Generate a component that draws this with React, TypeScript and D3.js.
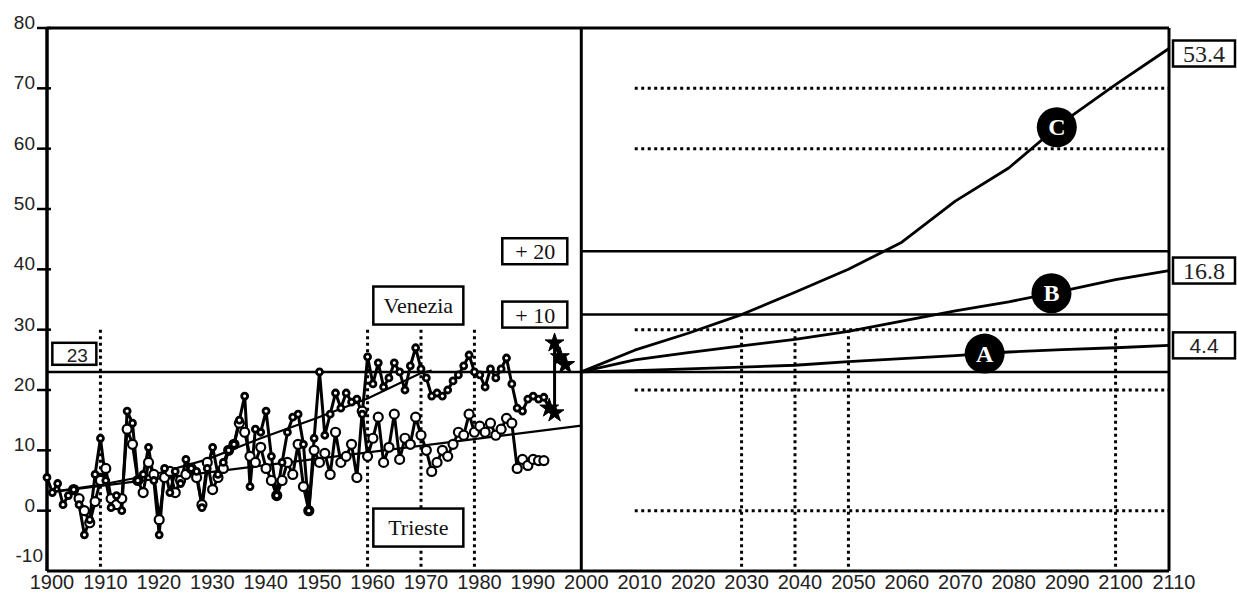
import React from "react";
import * as d3 from "d3";

const W = 1237;
const H = 595;

// ---------- data ----------
const yTicks = [80, 70, 60, 50, 40, 30, 20, 10, 0, -10];
const xTickYears = [1900, 1910, 1920, 1930, 1940, 1950, 1960, 1970, 1980, 1990, 2000, 2010, 2020, 2030, 2040, 2050, 2060, 2070, 2080, 2090, 2100, 2110];

// Venezia (upper series, small filled markers)
const venezia: [number, number][] = [
  [1900, 5.5], [1901, 3.0], [1902, 4.5], [1903, 1.0], [1904, 2.5], [1905, 3.5], [1906, 1.0], [1907, -4.0], [1908, -1.5], [1909, 6.0],
  [1910, 12.0], [1911, 5.0], [1912, 0.5], [1913, 2.5], [1914, 0.0], [1915, 16.5], [1916, 14.5], [1917, 5.0], [1918, 6.0], [1919, 10.5],
  [1920, 5.0], [1921, -4.0], [1922, 7.0], [1923, 3.0], [1924, 6.5], [1925, 4.5], [1926, 8.5], [1927, 7.0], [1928, 6.5], [1929, 0.5],
  [1930, 7.0], [1931, 10.5], [1932, 6.0], [1933, 8.0], [1934, 10.0], [1935, 11.0], [1936, 15.0], [1937, 19.0], [1938, 4.0], [1939, 13.5],
  [1940, 13.0], [1941, 16.5], [1942, 9.0], [1943, 2.5], [1944, 8.0], [1945, 13.0], [1946, 15.5], [1947, 16.0], [1948, 11.0], [1949, 0.0],
  [1950, 12.0], [1951, 23.0], [1952, 12.5], [1953, 16.0], [1954, 19.5], [1955, 17.0], [1956, 19.5], [1957, 18.0], [1958, 18.5], [1959, 16.0],
  [1960, 25.5], [1961, 21.0], [1962, 24.5], [1963, 20.5], [1964, 22.0], [1965, 24.5], [1966, 23.0], [1967, 20.0], [1968, 24.0], [1969, 27.0],
  [1970, 23.5], [1971, 22.0], [1972, 19.0], [1973, 19.5], [1974, 19.0], [1975, 20.0], [1976, 21.5], [1977, 22.5], [1978, 24.0], [1979, 25.8],
  [1980, 23.0], [1981, 22.5], [1982, 20.5], [1983, 23.5], [1984, 22.0], [1985, 23.5], [1986, 25.3], [1987, 21.0], [1988, 17.0], [1989, 16.5],
  [1990, 18.5], [1991, 19.0], [1992, 18.5], [1993, 18.8],
];
// Venezia, most recent values (star markers)
const veneziaStars: [number, number][] = [
  [1993, 18.8], [1994, 17.0], [1995, 16.2], [1995, 27.8], [1996, 25.5], [1997, 24.2],
];

// Trieste (lower series, open circles)
const trieste: [number, number][] = [
  [1905, 3.5], [1906, 2.0], [1907, 0.0], [1908, -2.0], [1909, 1.5],
  [1910, 5.0], [1911, 7.0], [1912, 2.0], [1913, 1.0], [1914, 2.0], [1915, 13.5], [1916, 11.0], [1917, 5.0], [1918, 3.0], [1919, 8.0],
  [1920, 6.0], [1921, -1.5], [1922, 5.5], [1923, 6.5], [1924, 3.0], [1925, 5.0], [1926, 6.0], [1927, 7.0], [1928, 5.5], [1929, 1.0],
  [1930, 8.0], [1931, 3.5], [1932, 5.5], [1933, 7.0], [1934, 10.0], [1935, 11.0], [1936, 14.5], [1937, 13.0], [1938, 9.0], [1939, 8.0],
  [1940, 10.5], [1941, 7.0], [1942, 5.0], [1943, 2.5], [1944, 5.0], [1945, 8.0], [1946, 6.0], [1947, 11.0], [1948, 4.0], [1949, 0.0],
  [1950, 10.0], [1951, 8.0], [1952, 9.5], [1953, 6.0], [1954, 13.0], [1955, 8.0], [1956, 9.0], [1957, 11.0], [1958, 5.5], [1959, 16.5],
  [1960, 9.0], [1961, 12.0], [1962, 15.5], [1963, 8.0], [1964, 10.5], [1965, 16.0], [1966, 8.5], [1967, 12.0], [1968, 11.0], [1969, 15.5],
  [1970, 12.5], [1971, 10.0], [1972, 6.5], [1973, 8.0], [1974, 10.0], [1975, 9.0], [1976, 11.0], [1977, 13.0], [1978, 12.5], [1979, 16.0],
  [1980, 13.0], [1981, 14.0], [1982, 13.0], [1983, 14.5], [1984, 12.5], [1985, 13.5], [1986, 15.3], [1987, 14.5], [1988, 7.0], [1989, 8.5],
  [1990, 7.5], [1991, 8.5], [1992, 8.3], [1993, 8.3],
];

// trend lines
const trendVenezia: [number, number][] = [
  [1900, 3.0], [1910, 4.3], [1920, 6.0], [1930, 8.5], [1940, 12.0], [1950, 15.2], [1960, 18.6], [1970, 22.8], [1972, 23.2],
];
const trendTrieste: [number, number][] = [[1900, 3.0], [2000, 14.1]];

// reference levels
const baseLevel = 23;
const levelPlus10 = 32.5;
const levelPlus20 = 43;

// scenarios (2000-2110)
const scenarioA: [number, number][] = [
  [2000, 23.0], [2010, 23.2], [2020, 23.5], [2030, 23.8], [2040, 24.1], [2050, 24.7], [2060, 25.2], [2070, 25.7], [2080, 26.3], [2090, 26.7], [2100, 27.0], [2110, 27.4],
];
const scenarioB: [number, number][] = [
  [2000, 23.0], [2010, 25.0], [2020, 26.2], [2030, 27.3], [2040, 28.4], [2050, 29.7], [2060, 31.4], [2070, 33.1], [2080, 34.6], [2090, 36.4], [2100, 38.3], [2110, 39.8],
];
const scenarioC: [number, number][] = [
  [2000, 23.0], [2010, 26.6], [2020, 29.4], [2030, 32.5], [2040, 36.2], [2050, 40.0], [2060, 44.5], [2070, 51.3], [2080, 56.8], [2090, 64.3], [2100, 70.6], [2110, 76.6],
];
const scenarioNames = ["A", "B", "C"];
const scenarioLabelYears = [2075.5, 2088, 2089];
const scenarioEndLabels = ["4.4", "16.8", "53.4"];

// grids
const leftGridYears = [1910, 1960, 1970, 1980];
const rightGridYears = [2030, 2040, 2050, 2100];
const rightGridLevels = [70, 60, 30, 20, 0];

// ---------- helpers ----------
function valueAt(series: [number, number][], yr: number) {
  for (let i = 0; i < series.length - 1; i++) {
    const [x0, y0] = series[i];
    const [x1, y1] = series[i + 1];
    if (yr >= x0 && yr <= x1) return y0 + ((yr - x0) / (x1 - x0)) * (y1 - y0);
  }
  return series[series.length - 1][1];
}

export default function App() {
  const x = d3.scaleLinear().domain([1900, 2110]).range([47, 1169]);
  const y = d3.scaleLinear().domain([-10, 80]).range([571, 28]);
  const line = d3.line<[number, number]>().x((d) => x(d[0])).y((d) => y(d[1]));

  const sans = "'Liberation Sans', Arial, sans-serif";
  const serif = "'Liberation Serif', 'Times New Roman', serif";
  const dots = "3,3.5";

  const scenarios = [scenarioA, scenarioB, scenarioC];
  const starPath = d3.symbol().type(d3.symbolStar).size(110)() as string;

  const xL = x(1900);
  const xM = x(2000);
  const xR = x(2110);
  const yT = y(80);
  const yB = y(-10);

  return (
    <svg
      width={W}
      height={H}
      viewBox={`0 0 ${W} ${H}`}
      style={{ position: "absolute", left: 0, top: 0, background: "#fff" }}
    >
      <rect x={0} y={0} width={W} height={H} fill="#fff" />

      {/* dotted grid, left panel */}
      {leftGridYears.map((yr) => (
        <line key={"lg" + yr} x1={x(yr)} x2={x(yr)} y1={y(30)} y2={yB} stroke="#000" strokeWidth={3} strokeDasharray={dots} />
      ))}
      {/* dotted grid, right panel */}
      {rightGridYears.map((yr) => (
        <line key={"rg" + yr} x1={x(yr)} x2={x(yr)} y1={y(30)} y2={yB} stroke="#000" strokeWidth={3} strokeDasharray={dots} />
      ))}
      {rightGridLevels.map((v) => (
        <line key={"rh" + v} x1={x(2010)} x2={xR} y1={y(v)} y2={y(v)} stroke="#000" strokeWidth={3} strokeDasharray={dots} />
      ))}

      {/* reference levels */}
      <line x1={xL} x2={xR} y1={y(baseLevel)} y2={y(baseLevel)} stroke="#000" strokeWidth={2.5} />
      <line x1={xM} x2={xR} y1={y(levelPlus10)} y2={y(levelPlus10)} stroke="#000" strokeWidth={2.5} />
      <line x1={xM} x2={xR} y1={y(levelPlus20)} y2={y(levelPlus20)} stroke="#000" strokeWidth={2.5} />

      {/* frame */}
      <line x1={xL} x2={xR} y1={yT} y2={yT} stroke="#000" strokeWidth={3} />
      <line x1={xL} x2={xR} y1={yB} y2={yB} stroke="#000" strokeWidth={3} />
      <line x1={xL} x2={xL} y1={yT} y2={yB} stroke="#000" strokeWidth={3.5} />
      <line x1={xM} x2={xM} y1={yT} y2={yB} stroke="#000" strokeWidth={3} />
      <line x1={xR} x2={xR} y1={yT} y2={yB} stroke="#000" strokeWidth={3} />

      {/* y ticks & labels */}
      {yTicks.map((t) => (
        <g key={"yt" + t}>
          {t > -10 && <line x1={xL - 10} x2={xL + 4} y1={y(t)} y2={y(t)} stroke="#000" strokeWidth={2.5} />}
          <text
            x={t === -10 ? 43 : 35}
            y={t === -10 ? y(t) - 9 : y(t) + 1}
            textAnchor="end"
            fontFamily={sans}
            fontSize={19}
            fill="#222"
          >
            {t}
          </text>
        </g>
      ))}

      {/* x labels */}
      {xTickYears.map((yr) => (
        <text key={"xl" + yr} x={x(yr) + 5} y={589} textAnchor="middle" fontFamily={sans} fontSize={20} fill="#222">
          {yr}
        </text>
      ))}

      {/* series lines */}
      <path d={line(trieste) as string} fill="none" stroke="#000" strokeWidth={3} strokeLinejoin="round" />
      <path d={line(venezia) as string} fill="none" stroke="#000" strokeWidth={3} strokeLinejoin="round" />
      <path d={line(veneziaStars) as string} fill="none" stroke="#000" strokeWidth={3} strokeLinejoin="round" />

      {/* trend lines */}
      <path d={line(trendVenezia) as string} fill="none" stroke="#000" strokeWidth={2.2} />
      <path d={line(trendTrieste) as string} fill="none" stroke="#000" strokeWidth={2.2} />

      {/* markers */}
      {trieste.map((d, i) => (
        <circle key={"tm" + i} cx={x(d[0])} cy={y(d[1])} r={4.5} fill="#fff" stroke="#000" strokeWidth={2.2} />
      ))}
      {venezia.map((d, i) => (
        <circle key={"vm" + i} cx={x(d[0])} cy={y(d[1])} r={3} fill="#fff" stroke="#000" strokeWidth={2.8} />
      ))}
      {veneziaStars.slice(1).map((d, i) => (
        <path key={"vs" + i} d={starPath} transform={`translate(${x(d[0])},${y(d[1])})`} fill="#000" stroke="#000" strokeWidth={1} />
      ))}

      {/* scenarios */}
      {scenarios.map((s, i) => (
        <path key={"sc" + i} d={line(s) as string} fill="none" stroke="#000" strokeWidth={2.8} strokeLinejoin="round" />
      ))}
      {scenarios.map((s, i) => {
        const yr = scenarioLabelYears[i];
        const cx = x(yr);
        const cy = y(valueAt(s, yr));
        return (
          <g key={"sl" + i}>
            <circle cx={cx} cy={cy} r={20} fill="#000" />
            <text x={cx} y={cy + 8} textAnchor="middle" fontFamily={serif} fontWeight="bold" fontSize={24} fill="#fff">
              {scenarioNames[i]}
            </text>
          </g>
        );
      })}

      {/* end-value boxes */}
      {scenarios.map((s, i) => {
        const v = s[s.length - 1][1];
        const cy = y(v) + (i === 2 ? 5 : 0);
        const isSans = i === 0;
        return (
          <g key={"eb" + i}>
            <rect x={xR + 4} y={cy - 13} width={62} height={26} fill="#fff" stroke="#000" strokeWidth={2.5} />
            <text
              x={xR + 35}
              y={cy + 8}
              textAnchor="middle"
              fontFamily={isSans ? sans : serif}
              fontSize={isSans ? 21 : 24}
              fill="#222"
            >
              {scenarioEndLabels[i]}
            </text>
          </g>
        );
      })}

      {/* "23" box */}
      <rect x={x(1901)} y={y(26) - 11} width={44} height={22} fill="#fff" stroke="#000" strokeWidth={2.5} />
      <text x={x(1901) + 25} y={y(26) + 8} textAnchor="middle" fontFamily={sans} fontSize={19} fill="#222">
        {baseLevel}
      </text>

      {/* +20 / +10 boxes */}
      {[levelPlus20, levelPlus10].map((lv, i) => (
        <g key={"pb" + i}>
          <rect x={xM - 79} y={y(lv) - 13} width={65} height={26} fill="#fff" stroke="#000" strokeWidth={2.5} />
          <text x={xM - 46} y={y(lv) + 8} textAnchor="middle" fontFamily={serif} fontSize={22} fill="#111">
            {i === 0 ? "+ 20" : "+ 10"}
          </text>
        </g>
      ))}

      {/* station labels */}
      {[
        { name: "Venezia", v: 34 },
        { name: "Trieste", v: -2.8 },
      ].map((b) => (
        <g key={b.name}>
          <rect x={x(1969.5) - 45} y={y(b.v) - 19} width={90} height={38} fill="#fff" stroke="#000" strokeWidth={2.5} />
          <text x={x(1969.5)} y={y(b.v) + 7} textAnchor="middle" fontFamily={serif} fontSize={22} fill="#111">
            {b.name}
          </text>
        </g>
      ))}
    </svg>
  );
}
